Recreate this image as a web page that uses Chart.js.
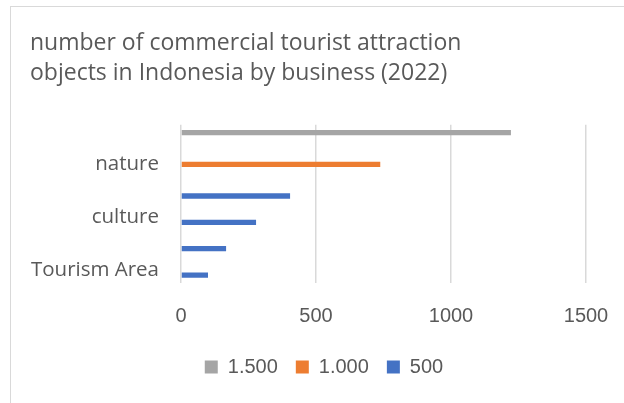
<!DOCTYPE html>
<html>
<head>
<meta charset="utf-8">
<script src="https://cdn.jsdelivr.net/npm/chart.js@4"></script>
<style>
  html, body { margin: 0; padding: 0; background: #fff; overflow: hidden; }
  #frame { position: absolute; left: 10px; top: 6px; width: 700px; height: 500px; border: 1.5px solid #d9d9d9; }
  #wrap { position: absolute; left: 0; top: 0; width: 624px; height: 403px; }
</style>
</head>
<body>
<div id="frame"></div>
<div id="wrap"><canvas id="tourGraph" width="624" height="403"></canvas></div>
<script>
// categories top to bottom (Excel shows every other label)
var categories = ["", "nature", "", "culture", "", "Tourism Area"];
var seriesNames = ["1.500", "1.000", "500"];
var gray = [1222, null, null, null, null, null];
var orange = [null, 738, null, null, null, null];
var blue = [null, null, 404, 278, 167, 100];
var xTicks = [0, 500, 1000, 1500];

var textColor = "#595959";
var fontName = "'Liberation Sans', Arial, sans-serif";
var labelFont = "'Open Sans', sans-serif";

// nudge legend to the right like excel does
var legendShift = {
  id: "legendShift",
  afterLayout: function (chart) {
    chart.legend.left += 16;
    chart.legend.right += 16;
  },
};

document.addEventListener("DOMContentLoaded", function () {
  var ctx = document.getElementById("tourGraph").getContext("2d");
  var chart = new Chart(ctx, {
    type: "bar",
    data: {
      labels: categories,
      datasets: [
        { label: seriesNames[0], data: gray, backgroundColor: "#a5a5a5" },
        { label: seriesNames[1], data: orange, backgroundColor: "#ed7d31" },
        { label: seriesNames[2], data: blue, backgroundColor: "#4472c4" },
      ],
    },
    plugins: [legendShift],
    options: {
      indexAxis: "y",
      responsive: false,
      animation: false,
      categoryPercentage: 0.6,
      barPercentage: 1,
      layout: { padding: { left: 30, right: 38, top: 0, bottom: 16 } },
      plugins: {
        title: {
          display: true,
          text: ["number of commercial tourist attraction", "objects in Indonesia by business (2022)"],
          align: "start",
          color: textColor,
          font: { family: labelFont, size: 23, weight: "normal", lineHeight: 1.3 },
          padding: { top: 29, bottom: 36 },
        },
        legend: {
          position: "bottom",
          labels: {
            color: textColor,
            font: { family: fontName, size: 20 },
            boxWidth: 13,
            boxHeight: 13,
            padding: 18,
          },
        },
        tooltip: { enabled: false },
      },
      scales: {
        x: {
          min: 0,
          max: 1500,
          afterBuildTicks: function (axis) {
            axis.ticks = xTicks.map(function (v) { return { value: v }; });
          },
          afterFit: function (axis) {
            axis.height = 56;
            axis.paddingLeft = 0;
            axis.paddingRight = 0;
          },
          grid: { color: "#d9d9d9", lineWidth: 1.5, drawTicks: false },
          border: { display: false },
          ticks: {
            color: textColor,
            font: { family: fontName, size: 20 },
            padding: 21,
            callback: function (v) { return String(v); },
          },
        },
        y: {
          afterFit: function (axis) { axis.width = 151; },
          grid: { display: false, drawTicks: false },
          border: { display: false },
          ticks: { color: textColor, font: { family: labelFont, size: 20.5 }, padding: 22, autoSkip: false },
        },
      },
    },
  });
});
</script>
</body>
</html>
